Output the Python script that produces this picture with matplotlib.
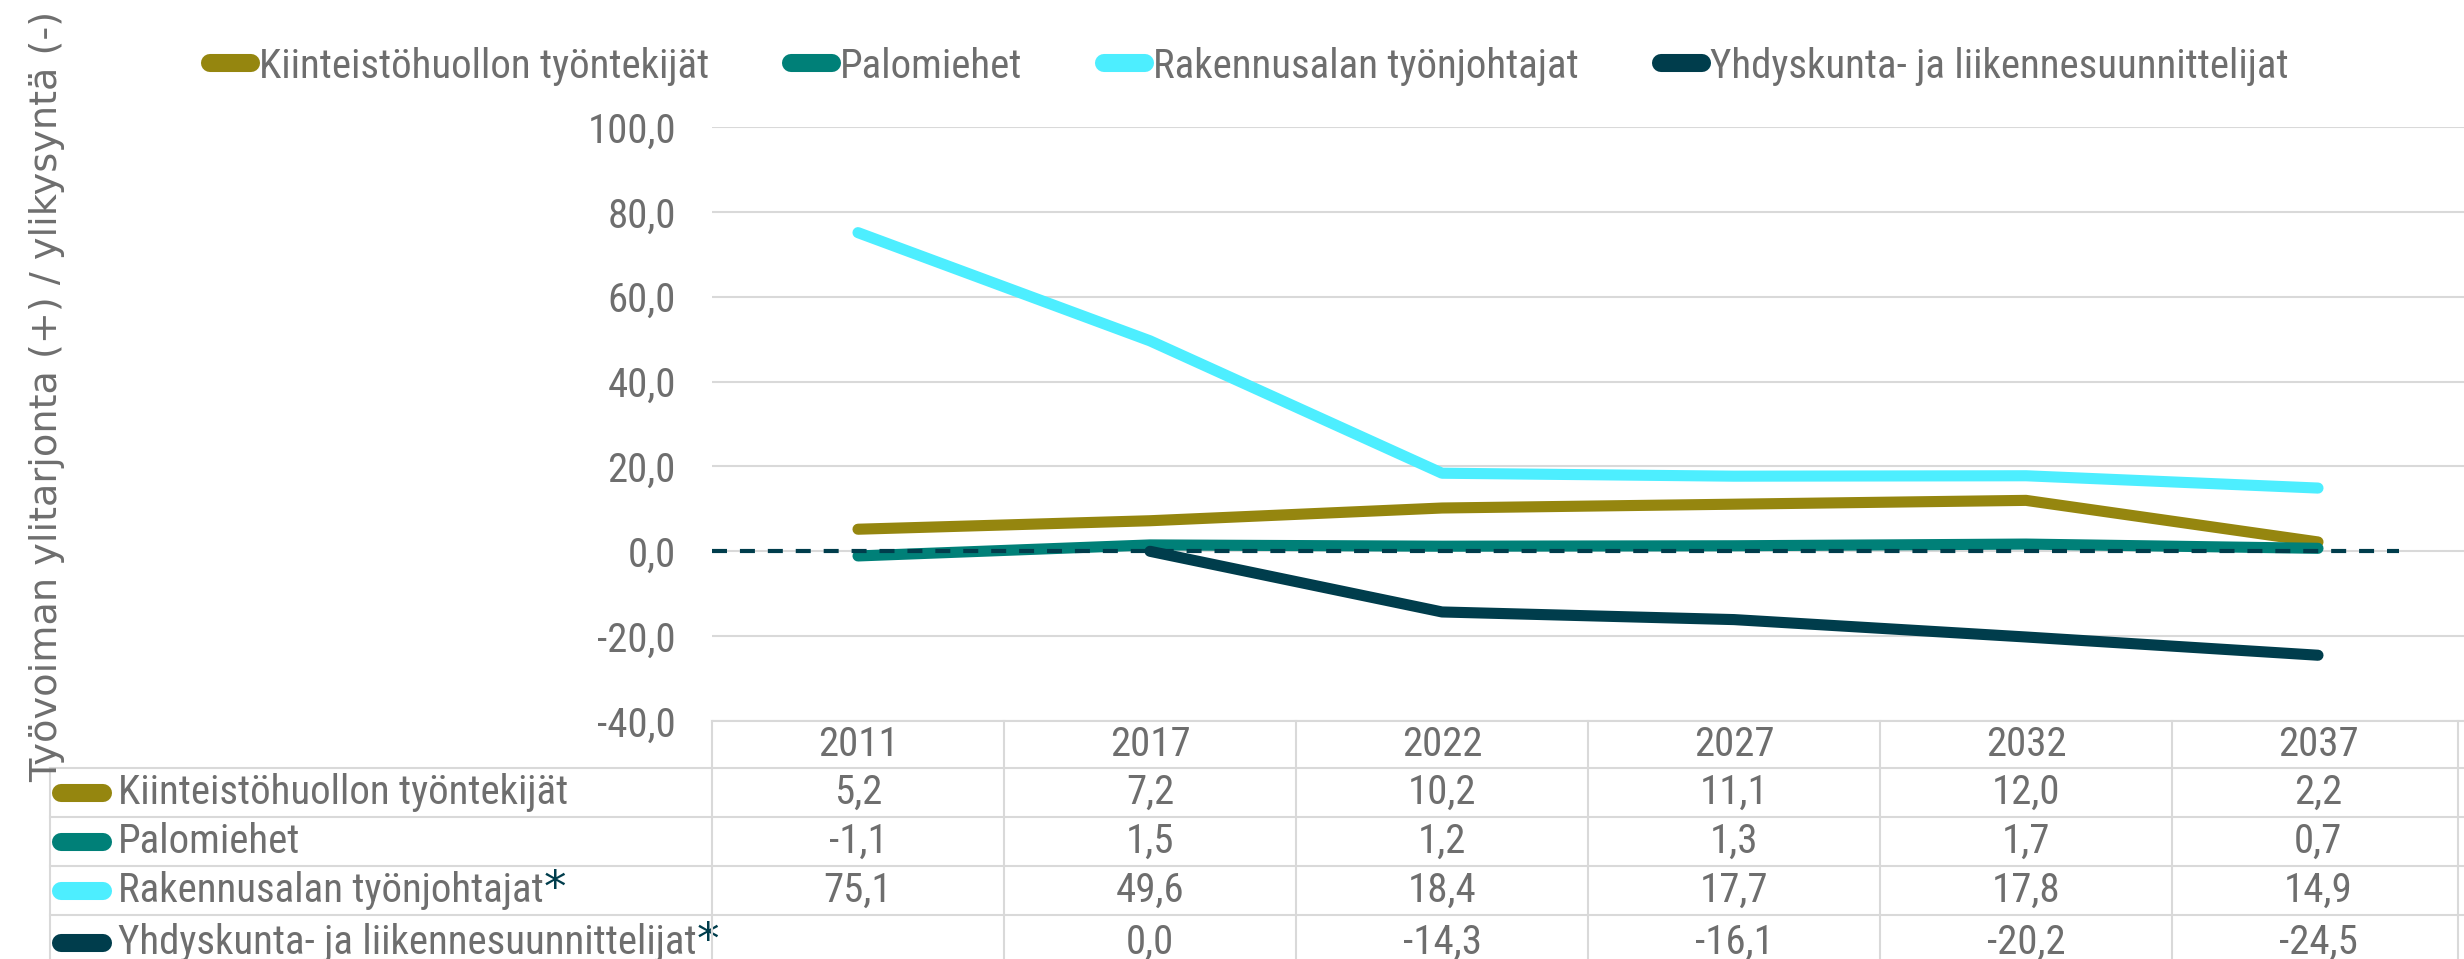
import numpy as np
import matplotlib.pyplot as plt
import matplotlib.transforms as mtransforms
from matplotlib import font_manager
from matplotlib.font_manager import FontProperties
from matplotlib.lines import Line2D

# ---- data ----
years = ['2011', '2017', '2022', '2027', '2032', '2037']
kiinteisto = [5.2, 7.2, 10.2, 11.1, 12.0, 2.2]
palomiehet = [-1.1, 1.5, 1.2, 1.3, 1.7, 0.7]
rakennus = [75.1, 49.6, 18.4, 17.7, 17.8, 14.9]
yhdyskunta = [np.nan, 0.0, -14.3, -16.1, -20.2, -24.5]

series_names = ['Kiinteistöhuollon työntekijät', 'Palomiehet',
                'Rakennusalan työnjohtajat', 'Yhdyskunta- ja liikennesuunnittelijat']
series_values = [kiinteisto, palomiehet, rakennus, yhdyskunta]
starred = [False, False, True, True]
colors = ['#95860F', '#008078', '#4DEEFF', '#003D4C']
ylabel = 'Työvoiman ylitarjonta (+) / ylikysyntä (-)'


# ---- fonts: the original uses a narrow face, take the narrowest one installed ----
def pick_font():
    fl = font_manager.fontManager.ttflist
    for name in ['Liberation Sans Narrow', 'Roboto Condensed', 'Open Sans Condensed',
                 'Noto Sans Condensed', 'DejaVu Sans Condensed']:
        if any(f.name == name for f in fl):
            return name, 'normal'
    for name in ['DejaVu Sans', 'Noto Sans', 'Open Sans']:
        if any(f.name == name and 'condensed' in f.fname.lower() for f in fl):
            return name, 'condensed'
    return 'Roboto', 'normal'


fam, stretch = pick_font()
txt_col = '#6E6E6E'
grid_col = '#D9D9D9'

W, H = 2464, 959
fig = plt.figure(figsize=(W / 100, H / 100), dpi=100)

# size the font so the row label is as wide as in the original (~451 px)
renderer = fig.canvas.get_renderer()
probe = fig.text(0, 0, series_names[0], fontproperties=FontProperties(family=fam, stretch=stretch, size=33))
fs = 33 * 451 / probe.get_window_extent(renderer).width
probe.remove()
fs = min(fs, 38)
fp = FontProperties(family=fam, stretch=stretch, size=fs)


def fy(y):
    # pixel row (from top) -> figure fraction
    return 1 - y / H


ax = fig.add_axes([712 / W, fy(721), 1752 / W, (721 - 127) / H])
x = np.arange(len(years))

for vals, c in zip(series_values, colors):
    ax.plot(x, vals, color=c, lw=8, solid_capstyle='round', zorder=3)

# zero reference line
ax.axhline(0, xmin=0, xmax=0.963, color='#003D4C', lw=3, dashes=(3.6, 3.1), zorder=4)

ax.set_xlim(-0.5, len(years) - 0.5)
ax.set_ylim(-40, 100)
ax.set_yticks(np.arange(-40, 101, 20))
ax.yaxis.set_major_formatter(plt.FuncFormatter(lambda v, p: f'{v:.1f}'.replace('.', ',')))
ax.set_xticks([])
ax.tick_params(axis='y', length=0, pad=26, labelcolor=txt_col)
for lab in ax.get_yticklabels():
    lab.set_fontproperties(fp)
ax.yaxis.grid(True, color=grid_col, lw=1.5)
ax.set_axisbelow(True)
for s in ax.spines.values():
    s.set_visible(False)

fig.text(47 / W, fy(396), ylabel, rotation=90, ha='center', va='center',
         fontsize=27.5, color=txt_col, family='DejaVu Sans')

# ---- legend ----
handles = [Line2D([], [], color=c, lw=13, solid_capstyle='round') for c in colors]
leg = fig.legend(handles, series_names, loc='center', bbox_to_anchor=(0.507, fy(66)),
                 ncol=4, frameon=False, handlelength=1.0, handletextpad=0.2,
                 columnspacing=2.0, prop=fp)
for t in leg.get_texts():
    t.set_color(txt_col)

# ---- data table ----
blend = mtransforms.blended_transform_factory(ax.transData, fig.transFigure)
row_edges = [721, 768, 817, 866, 915, 970]


def hline(y, x0, x1):
    fig.add_artist(Line2D([x0 / W, x1 / W], [fy(y), fy(y)], color=grid_col, lw=1.5,
                          transform=fig.transFigure))


hline(row_edges[0], 712, W)
for y in row_edges[1:5]:
    hline(y, 50, W)
for k in range(len(years) + 1):
    xe = k - 0.5 if k < len(years) else len(years) - 0.52
    fig.add_artist(Line2D([xe, xe], [fy(721), fy(H)], color=grid_col, lw=1.5, transform=blend))
fig.add_artist(Line2D([50 / W, 50 / W], [fy(768), fy(H)], color=grid_col, lw=1.5,
                      transform=fig.transFigure))

head_y = (row_edges[0] + row_edges[1]) / 2
for i, yr in enumerate(years):
    fig.text(i, fy(head_y), yr, transform=blend, ha='center', va='center',
             fontproperties=fp, color=txt_col)

for r, (name, vals, c, st) in enumerate(zip(series_names, series_values, colors, starred)):
    yc = (row_edges[r + 1] + row_edges[r + 2]) / 2
    fig.add_artist(Line2D([61 / W, 103 / W], [fy(yc), fy(yc)], color=c, lw=13,
                          solid_capstyle='round', transform=fig.transFigure))
    t = fig.text(118 / W, fy(yc), name, ha='left', va='center', fontproperties=fp,
                 color=txt_col)
    if st:
        ax.annotate('*', xy=(1, 1.08), xycoords=t, ha='left', va='top', fontsize=fs * 1.1,
                    color='#003D4C', family='DejaVu Sans', annotation_clip=False)
    for i, v in enumerate(vals):
        if np.isnan(v):
            continue
        fig.text(i, fy(yc), f'{v:.1f}'.replace('.', ','), transform=blend, ha='center',
                 va='center', fontproperties=fp, color=txt_col)

fig.savefig('out.png', dpi=100)
